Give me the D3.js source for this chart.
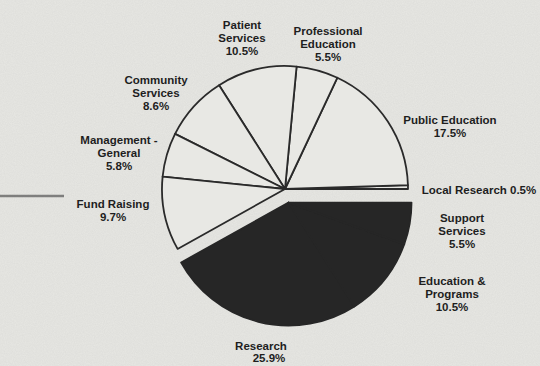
<html>
	<head>
		<title>Where the money goes</title>
		<script src="https://d3js.org/d3.v7.min.js" charset="utf-8"></script>
		<style>
		body {
			margin: 0;
			background: #e5e5e1;
			font-family: "Liberation Sans", Arial, sans-serif;
			}
		svg text {
			font-weight: bold;
			font-size: 11.5px;
			fill: #1e1e1e;
			}
		</style>
	</head>
	<body>
	<script>
	// chart values, in the order they go round the pie
	// (starting at 3 o'clock, going counter-clockwise)
	var categories = ["Local Research", "Public Education", "Professional\nEducation", "Patient\nServices",
		"Community\nServices", "Management -\nGeneral", "Fund Raising", "Research", "Education &\nPrograms", "Support\nServices"];
	var shares = [0.5, 17.5, 5.5, 10.5, 8.6, 5.8, 9.7, 25.9, 10.5, 5.5];
	var shareLabels = ["0.5%", "17.5%", "5.5%", "10.5%", "8.6%", "5.8%", "9.7%", "25.9%", "10.5%", "5.5%"];
	// which slices belong to the dark (pulled out) block
	var darkGroup = ["Research", "Education &\nPrograms", "Support\nServices"];

	// label placement (centre x, first baseline y)
	var labelPos = {
		"Local Research": [479, 194],
		"Public Education": [450, 124],
		"Professional\nEducation": [328, 35],
		"Patient\nServices": [242, 29],
		"Community\nServices": [156, 84],
		"Management -\nGeneral": [119, 144],
		"Fund Raising": [113, 208],
		"Research": [261, 350],
		"Education &\nPrograms": [452, 285],
		"Support\nServices": [462, 222]
	};

	var width = 540, height = 366;
	var cx = 285, cy = 189, radius = 123, explode = 14;

	var svg = d3.select("body")
		.append("svg")
		.attr("width", width)
		.attr("height", height);

	// paper grain
	var defs = svg.append("defs");
	var f = defs.append("filter").attr("id", "grain");
	f.append("feTurbulence").attr("type", "fractalNoise").attr("baseFrequency", 0.9).attr("numOctaves", 2).attr("seed", 3);
	f.append("feColorMatrix").attr("type", "matrix")
		.attr("values", "0 0 0 0 0.3  0 0 0 0 0.3  0 0 0 0 0.3  0 0 0 0.35 -0.05");
	svg.append("rect").attr("width", width).attr("height", height).attr("fill", "#e6e6e2");
	svg.append("rect").attr("width", width).attr("height", height).attr("filter", "url(#grain)").attr("opacity", 0.35);

	// stray rule from neighbouring column on the left
	svg.append("line").attr("x1", 0).attr("x2", 64).attr("y1", 196).attr("y2", 196)
		.attr("stroke", "#555").attr("stroke-width", 2.5).attr("opacity", 0.7);

	var data = categories.map(function(c, i) { return {name: c, value: shares[i], label: shareLabels[i]}; });

	// start at 3 o'clock and run counter-clockwise
	var pie = d3.pie()
		.sort(null)
		.value(function(d) { return d.value; })
		.startAngle(Math.PI / 2)
		.endAngle(Math.PI / 2 - 2 * Math.PI);

	var arcs = pie(data);
	var arc = d3.arc().innerRadius(0).outerRadius(radius);

	// mid angle of the dark block, used to pull it out
	var darkArcs = arcs.filter(function(a) { return darkGroup.indexOf(a.data.name) >= 0; });
	var dStart = d3.max(darkArcs, function(a) { return a.startAngle; });
	var dEnd = d3.min(darkArcs, function(a) { return a.endAngle; });
	var dMid = (dStart + dEnd) / 2;
	var ox = Math.sin(dMid) * explode, oy = -Math.cos(dMid) * explode;

	var g = svg.append("g").attr("transform", "translate(" + cx + "," + cy + ")");

	g.selectAll("path")
		.data(arcs)
		.enter()
		.append("path")
		.attr("d", arc)
		.attr("transform", function(a) {
			return darkGroup.indexOf(a.data.name) >= 0 ? "translate(" + ox + "," + oy + ")" : null;
		})
		.attr("fill", function(a) { return darkGroup.indexOf(a.data.name) >= 0 ? "#262626" : "#e8e8e4"; })
		.attr("stroke", function(a) { return darkGroup.indexOf(a.data.name) >= 0 ? "#262626" : "#2a2a2a"; })
		.attr("stroke-width", 1.8)
		.attr("stroke-linejoin", "round");

	// labels
	var lineH = 12.8;
	var labels = svg.append("g");
	data.forEach(function(d) {
		var p = labelPos[d.name];
		var t = labels.append("text").attr("text-anchor", "middle");
		var lines = d.name.split("\n");
		if (d.name == "Local Research") lines = [d.name + " " + d.label];
		else lines.push(d.label);
		lines.forEach(function(l, i) {
			var ts = t.append("tspan").attr("x", p[0]).attr("y", p[1] + i * (d.name == "Research" ? 11.5 : lineH)).text(l);
			if (d.name == "Research" && i == 1) ts.attr("x", p[0] + 8);
		});
	});
	</script>
	</body>
</html>
